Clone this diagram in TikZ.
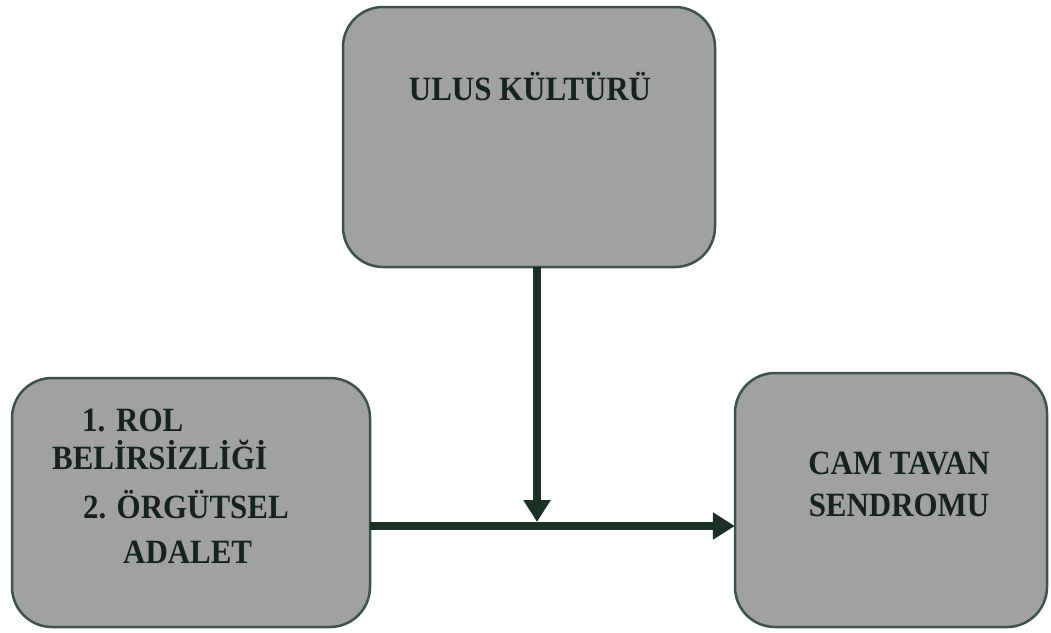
\documentclass[tikz,border=0pt]{standalone}
\usepackage{fontspec}
\setmainfont{Liberation Serif}
\newfontfamily\boxfont[FakeStretch=0.91]{Liberation Serif}
\usetikzlibrary{arrows.meta}
\definecolor{boxfill}{RGB}{160,161,160}
\definecolor{boxline}{RGB}{62,82,72}
\definecolor{arrowc}{RGB}{28,48,38}
\definecolor{txt}{RGB}{22,34,28}
\tikzset{
  box/.style={draw=boxline, line width=2.5pt, fill=boxfill, rounded corners=40pt, inner sep=0pt},
  lbl/.style={font=\boxfont\bfseries\fontsize{34}{40}\selectfont, text=txt, inner sep=0pt},
  conn/.style={draw=arrowc, line width=8pt, -{Triangle[length=22pt,width=26pt]}}
}
\begin{document}
\begin{tikzpicture}[x=1pt,y=-1pt]
\useasboundingbox (0,0) rectangle (1051,632);
\fill[white] (0,0) rectangle (1051,632);
% boxes
\draw[box] (343,7) rectangle (715,267);
\node[inner sep=0pt, minimum width=372pt, minimum height=260pt] (top) at (529,137) {};
\draw[box] (12,378) rectangle (370,627);
\node[inner sep=0pt, minimum width=358pt, minimum height=249pt] (left) at (191,502.5) {};
\draw[box] (735,373) rectangle (1047,627);
\node[inner sep=0pt, minimum width=312pt, minimum height=254pt] (right) at (891,500) {};
% texts
\node[lbl, anchor=base] (t1) at (530,100) {ULUS KÜLTÜRÜ};
\node[lbl, anchor=base west] (l1) at (82,431) {1.};
\node[lbl, anchor=base west] (l1b) at (116,431) {ROL};
\node[lbl, anchor=base west] (l2) at (52,469) {BELİRSİZLİĞİ};
\node[lbl, anchor=base west] (l3) at (83,518) {2. ÖRGÜTSEL};
\node[lbl, anchor=base west] (l4) at (123,563) {ADALET};
\node[lbl, anchor=base] (r1) at (899,474) {CAM TAVAN};
\node[lbl, anchor=base] (r2) at (899,516) {SENDROMU};
% connectors
\coordinate (j) at (537,522);
\coordinate (h) at (537,526);
\draw[conn] (top.south -| j) -- (j);
\draw[conn] (left.east |- h) -- (right.west |- h);
\end{tikzpicture}
\end{document}
